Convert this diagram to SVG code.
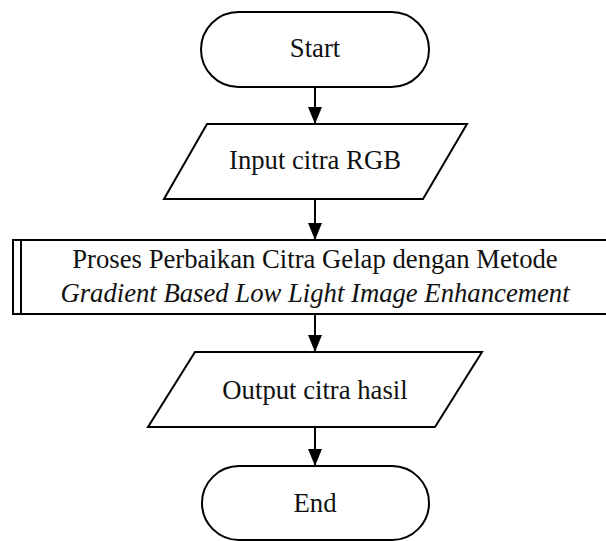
<svg xmlns="http://www.w3.org/2000/svg" width="606" height="541" viewBox="0 0 606 541">
<defs>
<style>
.shape{fill:#fff;stroke:#000;stroke-width:2}
.conn{stroke:#000;stroke-width:2;fill:none}
.t{font-family:"Liberation Serif","Times New Roman",serif;font-size:26.7px;fill:#111;text-anchor:middle}
.i{font-style:italic}
</style>
<marker id="arr" viewBox="0 0 17 14" refX="17" refY="7" markerUnits="userSpaceOnUse" markerWidth="17" markerHeight="14" orient="auto">
<path d="M0,0 L17,7 L0,14 Z" fill="#000"/>
</marker>
</defs>
<rect width="606" height="541" fill="#fff"/>
<g id="connectors">
<line class="conn" x1="315" y1="87" x2="315" y2="124" marker-end="url(#arr)"/>
<line class="conn" x1="315" y1="199" x2="315" y2="240" marker-end="url(#arr)"/>
<line class="conn" x1="315" y1="314" x2="315" y2="352" marker-end="url(#arr)"/>
<line class="conn" x1="315" y1="427" x2="315" y2="466" marker-end="url(#arr)"/>
</g>
<g id="start">
<rect class="shape" x="201" y="12" width="228" height="75" rx="37.5" ry="37.5"/>
<text class="t" x="315" y="57">Start</text>
</g>
<g id="input">
<polygon class="shape" points="207,124 467,124 423,199 164,199"/>
<text class="t" x="315" y="169">Input citra RGB</text>
</g>
<g id="process">
<rect class="shape" x="13" y="240" width="600" height="74"/>
<line class="conn" x1="21" y1="240" x2="21" y2="314"/>
<text class="t" x="315" y="268">Proses Perbaikan Citra Gelap dengan Metode</text>
<text class="t i" x="315" y="302">Gradient Based Low Light Image Enhancement</text>
</g>
<g id="output">
<polygon class="shape" points="195,352 482,352 435,427 148,427"/>
<text class="t" x="315" y="399">Output citra hasil</text>
</g>
<g id="end">
<rect class="shape" x="202" y="466" width="227" height="74" rx="37" ry="37"/>
<text class="t" x="315" y="512">End</text>
</g>
</svg>
